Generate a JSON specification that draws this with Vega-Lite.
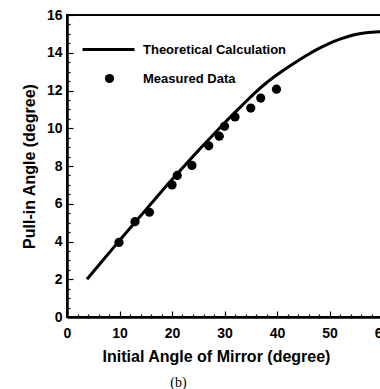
{
  "$schema": "https://vega.github.io/schema/vega-lite/v6.json",
  "width": 315,
  "height": 302,
  "autosize": {"type": "none"},
  "padding": {"left": 67, "top": 15, "right": 0, "bottom": 72},
  "background": "white",
  "config": {
    "font": "Liberation Sans",
    "view": {"stroke": "black", "strokeWidth": 2},
    "axis": {
      "grid": false,
      "domainColor": "black",
      "domainWidth": 2.5,
      "tickColor": "black",
      "tickWidth": 1.2,
      "labelColor": "black",
      "labelFont": "Liberation Sans",
      "labelFontWeight": "bold",
      "labelFontSize": 14,
      "titleColor": "black",
      "titleFont": "Liberation Sans",
      "titleFontWeight": "bold",
      "titleFontSize": 16
    },
    "legend": {"padding": 0, "labelFont": "Liberation Sans", "labelFontWeight": "bold", "labelFontSize": 13, "labelColor": "black", "titleFontSize": 0}
  },
  "title": {"text": "(b)", "orient": "bottom", "anchor": "middle", "frame": "group", "dx": -46, "offset": 12, "font": "Liberation Serif", "fontSize": 14, "fontWeight": "normal", "color": "black"},
  "resolve": {"axis": {"x": "independent", "y": "independent"}},
  "layer": [
    {
      "data": {"values": [
        {"x": 3.8, "y": 2.0}, {"x": 6, "y": 2.73}, {"x": 8, "y": 3.39}, {"x": 10, "y": 4.05},
        {"x": 12, "y": 4.7}, {"x": 14, "y": 5.35}, {"x": 16, "y": 6.0}, {"x": 18, "y": 6.65},
        {"x": 20, "y": 7.28}, {"x": 22, "y": 7.9}, {"x": 24, "y": 8.51}, {"x": 26, "y": 9.11},
        {"x": 28, "y": 9.7}, {"x": 30, "y": 10.28}, {"x": 32, "y": 10.84}, {"x": 34, "y": 11.39},
        {"x": 36, "y": 11.93}, {"x": 38, "y": 12.41}, {"x": 40, "y": 12.83}, {"x": 42, "y": 13.22},
        {"x": 44, "y": 13.58}, {"x": 46, "y": 13.92}, {"x": 48, "y": 14.23}, {"x": 50, "y": 14.5},
        {"x": 52, "y": 14.72}, {"x": 54, "y": 14.9}, {"x": 56, "y": 15.02}, {"x": 58, "y": 15.09},
        {"x": 60, "y": 15.12}
      ]},
      "mark": {"type": "line", "strokeWidth": 3, "interpolate": "monotone"},
      "encoding": {
        "x": {
          "field": "x", "type": "quantitative",
          "scale": {"domain": [0, 60], "nice": false, "zero": false},
          "axis": {
            "orient": "bottom",
            "title": "Initial Angle of Mirror (degree)",
            "values": [0, 10, 20, 30, 40, 50, 60],
            "tickSize": -6,
            "labelPadding": 15,
            "labelFlush": false,
            "labelOverlap": false,
            "titlePadding": 8,
            "titleX": 149
          }
        },
        "y": {
          "field": "y", "type": "quantitative",
          "scale": {"domain": [0, 16], "nice": false, "zero": false},
          "axis": {
            "orient": "left",
            "title": "Pull-in Angle (degree)",
            "values": [0, 2, 4, 6, 8, 10, 12, 14, 16],
            "tickSize": -6,
            "labelPadding": 11,
            "labelFlush": false,
            "labelOverlap": false,
            "titlePadding": 9
          }
        },
        "color": {
          "datum": "Theoretical Calculation",
          "type": "nominal",
          "scale": {"range": ["black"]},
          "legend": {
            "title": null,
            "orient": "none",
            "legendX": 14,
            "legendY": 7,
            "symbolType": "stroke",
            "symbolSize": 2704,
            "symbolStrokeWidth": 3,
            "labelOffset": 7
          }
        }
      }
    },
    {
      "data": {"values": [
        {"x": 9.9, "y": 3.95}, {"x": 12.95, "y": 5.05}, {"x": 15.7, "y": 5.55}, {"x": 20.0, "y": 7.0},
        {"x": 21.0, "y": 7.5}, {"x": 23.8, "y": 8.03}, {"x": 27.0, "y": 9.07}, {"x": 29.0, "y": 9.58},
        {"x": 30.0, "y": 10.1}, {"x": 32.0, "y": 10.6}, {"x": 35.0, "y": 11.07}, {"x": 36.9, "y": 11.6},
        {"x": 39.9, "y": 12.07}
      ]},
      "mark": {"type": "point", "filled": true, "size": 85, "opacity": 1, "color": "black"},
      "encoding": {
        "x": {
          "field": "x", "type": "quantitative",
          "axis": {
            "orient": "bottom",
            "title": null,
            "values": [2,4,6,8,12,14,16,18,22,24,26,28,32,34,36,38,42,44,46,48,52,54,56,58],
            "tickSize": -3,
            "labels": false,
            "domain": false
          }
        },
        "y": {
          "field": "y", "type": "quantitative",
          "axis": {
            "orient": "left",
            "title": null,
            "values": [0.5,1,1.5,2.5,3,3.5,4.5,5,5.5,6.5,7,7.5,8.5,9,9.5,10.5,11,11.5,12.5,13,13.5,14.5,15,15.5],
            "tickSize": -3,
            "labels": false,
            "domain": false
          }
        },
        "shape": {
          "datum": "Measured Data",
          "type": "nominal",
          "scale": {"range": ["circle"]},
          "legend": {
            "title": null,
            "orient": "none",
            "legendX": 14,
            "legendY": 57,
            "symbolFillColor": "black",
            "symbolStrokeColor": "black",
            "symbolSize": 85,
            "symbolOffset": 22,
            "labelOffset": 27
          }
        }
      }
    }
  ]
}
